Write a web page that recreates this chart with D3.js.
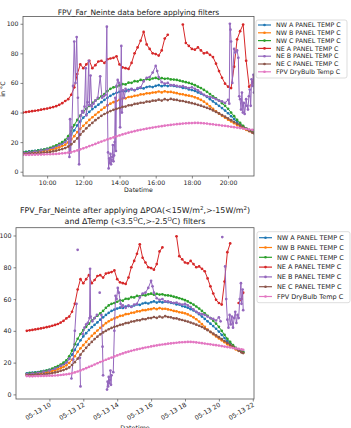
<!DOCTYPE html>
<html>
<head>
<meta charset="utf-8">
<script src="https://cdn.jsdelivr.net/npm/d3@7"></script>
<style>
  body { margin: 0; background: #fff; }
  svg { display: block; font-family: "DejaVu Sans", sans-serif; }
</style>
</head>
<body>
<svg id="chart" width="351" height="428"></svg>
<script>
// Series names and colours (matplotlib tab10 order)
const names = ["NW A PANEL TEMP C", "NW B PANEL TEMP C", "NW C PANEL TEMP C", "NE A PANEL TEMP C",
               "NE B PANEL TEMP C", "NE C PANEL TEMP C", "FPV DryBulb Temp C"];
const colors = ["#1f77b4", "#ff7f0e", "#2ca02c", "#d62728", "#9467bd", "#8c564b", "#e377c2"];

const yTicks = [0, 20, 40, 60, 80, 100];
const topTicks = ["10:00", "12:00", "14:00", "16:00", "18:00", "20:00"];
const bottomTicks = ["10:00", "12:00", "14:00", "16:00", "18:00", "20:00", "22:00"];

const at = (h, m) => new Date(2023, 4, 13, h, m);
const hm = s => at(+s.slice(0, 2), +s.slice(3));

// 10 minute samples from 08:40 to 21:20, last sample 21:26
const gridTimes = d3.range(77).map(i => at(8, 40 + 10 * i)).concat([at(21, 26)]);

const nwA = [13.3, 13.5,
  13.7, 13.9, 14.1, 14.4, 14.7, 15.0,
  15.4, 15.9, 16.5, 17.2, 18.0, 19.0,
  20.2, 22.3, 25.0, 28.0, 31.3, 34.0,
  36.5, 38.5, 40.5, 42.3, 43.8, 45.3,
  47.0, 48.5, 50.0, 51.3, 52.5, 53.3,
  54.0, 54.6, 54.4, 55.3, 55.6, 55.2,
  56.0, 56.6, 56.3, 57.2, 57.6, 57.2,
  58.0, 58.5, 57.8, 58.4, 57.9, 58.3,
  58.0, 57.6, 57.4, 56.6, 56.5, 55.6,
  55.2, 54.6, 53.6, 52.8, 51.8, 50.5,
  49.0, 47.5, 46.0, 44.5, 43.0, 41.3,
  39.5, 37.5, 35.5, 33.5, 31.8, 30.3,
  29.2, 28.2, 27.4, 27.0];

const nwB = [12.6, 12.8,
  13.0, 13.1, 13.3, 13.5, 13.7, 14.0,
  14.3, 14.7, 15.2, 15.8, 16.5, 17.3,
  18.3, 19.8, 21.8, 24.0, 26.8, 29.0,
  31.0, 33.0, 35.0, 36.8, 38.5, 40.2,
  41.8, 43.3, 44.8, 46.0, 47.0, 47.8,
  48.5, 49.4, 49.6, 50.5, 50.6, 51.3,
  51.5, 52.2, 52.3, 53.0, 53.0, 53.5,
  53.6, 54.2, 53.6, 54.3, 53.8, 53.9,
  53.5, 53.1, 52.5, 52.3, 51.7, 51.4,
  51.0, 50.3, 49.5, 48.5, 47.3, 45.8,
  44.2, 42.5, 40.8, 39.2, 37.8, 36.5,
  35.2, 34.0, 32.8, 31.5, 30.4, 29.3,
  28.3, 27.4, 26.6, 26.2];

const nwC = [13.0, 13.2,
  13.4, 13.6, 13.9, 14.2, 14.6, 15.0,
  15.5, 16.2, 17.0, 17.8, 18.8, 20.0,
  21.5, 24.0, 27.5, 31.5, 35.0, 38.0,
  40.5, 42.5, 44.5, 46.5, 48.0, 49.5,
  51.0, 52.5, 54.5, 56.0, 57.0, 57.5,
  58.3, 59.2, 59.0, 60.2, 60.1, 61.2,
  61.0, 62.0, 61.7, 62.6, 62.3, 63.0,
  63.4, 62.7, 63.3, 62.8, 63.0, 62.4,
  62.3, 62.0, 61.5, 61.0, 60.5, 60.0,
  59.3, 58.5, 57.5, 56.5, 55.3, 54.0,
  52.5, 51.0, 49.5, 48.0, 46.3, 44.5,
  42.5, 40.0, 37.5, 35.0, 33.0, 31.0,
  29.3, 28.0, 27.0, 26.5];

const neA = [40.0, 40.3,
  40.6, 40.9, 41.2, 41.5, 41.9, 42.3,
  42.7, 43.2, 43.7, 44.3, 45.2, 46.3,
  47.8, 49.0, 52.0, 57.0, 66.0, 72.5,
  70.0, 72.5, 75.0, 70.0, 72.0, 74.5,
  75.0, 73.5, 76.0, 76.5, 77.0, 78.0,
  72.5, 70.5, 70.0, 69.5, 73.5, 80.0,
  84.0, 88.5, 94.5, 86.0, 83.0, 80.0,
  79.5, 78.5, 82.0, 90.0, 92.5, null,
  null, null, null, 99.5, 87.0, 85.0,
  83.0, 82.5, 84.0, 82.0, 80.0, 80.5,
  79.0, 77.5, 73.0, 68.0, 63.5, 59.5,
  57.5, 56.5, 71.0, 89.5, 95.0, 99.5,
  75.0, 57.5, 60.0, 64.0];

const neC = [12.0, 12.1,
  12.2, 12.3, 12.4, 12.5, 12.7, 12.9,
  13.1, 13.4, 13.8, 14.2, 14.8, 15.3,
  16.0, 17.0, 18.5, 20.3, 22.5, 25.0,
  27.3, 29.3, 31.3, 33.0, 34.8, 36.3,
  37.8, 39.0, 40.0, 41.0, 41.8, 42.5,
  43.0, 43.8, 44.0, 44.9, 45.0, 45.8,
  46.0, 46.6, 46.6, 47.4, 47.3, 48.0,
  48.0, 48.7, 48.1, 49.0, 48.4, 49.2,
  48.7, 48.5, 47.9, 47.8, 47.2, 46.8,
  46.3, 45.8, 45.2, 44.6, 43.9, 43.2,
  42.4, 41.4, 40.4, 39.4, 38.3, 37.2,
  36.0, 34.8, 33.6, 32.4, 31.2, 30.0,
  28.8, 27.6, 26.5, 26.0];

const dryBulb = [11.5, 11.4,
  11.4, 11.5, 11.5, 11.6, 11.6, 11.7,
  11.8, 11.8, 11.9, 12.0, 12.2, 12.4,
  12.6, 12.9, 13.3, 13.8, 14.4, 15.1,
  15.8, 16.5, 17.3, 18.0, 18.8, 19.6,
  20.4, 21.1, 21.8, 22.5, 23.2, 23.9,
  24.5, 25.2, 25.8, 26.4, 26.9, 27.4,
  27.9, 28.3, 28.7, 29.1, 29.5, 29.8,
  30.2, 30.5, 30.8, 31.1, 31.4, 31.6,
  31.9, 32.1, 32.3, 32.5, 32.7, 32.8,
  32.9, 33.0, 33.0, 32.9, 32.7, 32.5,
  32.2, 32.0, 31.7, 31.5, 31.2, 31.0,
  30.7, 30.4, 30.1, 29.8, 29.5, 29.2,
  28.9, 28.6, 28.3, 28.1];

// NE B is irregular: [time, value]
const neBRaw = [
  ["08:40", 12.8], ["09:00", 13.1], ["09:20", 13.6], ["09:40", 14.3], ["10:00", 15.0], ["10:20", 16.2],
  ["10:40", 18.0], ["11:00", 20.0], ["11:10", 22.5], ["11:14", 10.0], ["11:16", 35.5], ["11:18", 13.0],
  ["11:22", 30.0], ["11:26", 58.0], ["11:30", 88.0], ["11:34", 60.0], ["11:38", 91.0], ["11:42", 50.0],
  ["11:46", 5.0], ["11:48", 25.0], ["11:52", 38.0], ["11:56", 41.0], ["12:00", 40.0], ["12:04", 44.0],
  ["12:08", 70.0], ["12:10", 38.0], ["12:14", 47.0], ["12:18", 75.0], ["12:20", 45.0], ["12:24", 65.0],
  ["12:28", 44.0], ["12:34", 46.0], ["12:40", 48.0], ["12:48", 50.0], ["12:56", 64.5], ["13:02", 50.0],
  ["13:08", 51.0], ["13:14", 52.0], ["13:18", 98.0], ["13:20", 45.0], ["13:22", 13.0], ["13:24", 2.2],
  ["13:26", 9.0], ["13:28", 6.0], ["13:30", 12.0], ["13:32", 5.0], ["13:34", 8.0], ["13:36", 10.0],
  ["13:38", 18.0], ["13:40", 7.0], ["13:42", 11.0], ["13:44", 20.0], ["13:46", 50.0], ["13:48", 14.0],
  ["13:50", 58.0], ["13:54", 62.0], ["13:58", 60.0], ["14:02", 30.0], ["14:06", 85.0], ["14:08", 40.0],
  ["14:12", 55.0], ["14:16", 50.0], ["14:20", 56.0], ["14:30", 54.5], ["14:40", 56.0], ["14:50", 55.0],
  ["15:00", 56.5], ["15:10", 57.0], ["15:20", 61.0], ["15:30", 63.5], ["15:40", 64.0], ["15:50", 67.0],
  ["16:00", 71.5], ["16:05", 68.0], ["16:10", 64.0], ["16:20", 60.5], ["16:30", 59.5], ["16:40", 60.0],
  ["16:50", 58.5], ["17:00", 58.5], ["17:10", 58.0], ["17:20", 57.5], ["17:30", 57.8], ["17:40", 57.0],
  ["17:50", 56.5], ["18:00", 57.0], ["18:10", 56.0], ["18:20", 55.0], ["18:30", 53.5], ["18:40", 52.0],
  ["18:50", 51.0], ["19:00", 50.5], ["19:10", 50.0], ["19:20", 49.0], ["19:30", 48.0], ["19:40", 47.5],
  ["19:50", 46.5], ["20:00", 48.5], ["20:04", 46.0], ["20:06", 100.0], ["20:08", 96.0], ["20:10", 88.0],
  ["20:14", 60.0], ["20:20", 83.0], ["20:24", 80.5], ["20:30", 82.0], ["20:34", 77.0], ["20:37", 51.0],
  ["20:40", 49.0], ["20:43", 42.0], ["20:46", 53.5], ["20:49", 40.0], ["20:52", 46.5], ["20:55", 39.0],
  ["21:00", 49.0], ["21:03", 44.5], ["21:06", 42.0], ["21:09", 51.0], ["21:12", 55.5], ["21:15", 44.5],
  ["21:18", 62.5], ["21:21", 58.0], ["21:24", 65.5], ["21:26", 53.5]
];

// NE B after filtering (null = removed, breaks the line)
const neBFiltered = [
  ["08:40", 12.8], ["09:00", 13.1], ["09:20", 13.6], ["09:40", 14.3], ["10:00", 15.0], ["10:20", 16.2],
  ["10:40", 18.0], ["11:00", 20.0], ["11:10", 22.5], ["11:12", null],
  ["11:18", 10.0], ["11:24", 22.0], ["11:30", 40.0], ["11:36", 57.0], ["11:38", null],
  ["11:40", 91.0], ["11:42", null],
  ["11:48", 23.0], ["11:50", 5.0], ["11:52", null],
  ["11:58", 38.0], ["12:04", 42.0], ["12:10", 44.0], ["12:16", 45.0], ["12:22", 48.0], ["12:24", 79.0],
  ["12:26", 49.0], ["12:32", 46.0], ["12:40", 48.0], ["12:48", 50.0], ["12:54", null],
  ["12:58", 64.0], ["13:00", null],
  ["13:04", 50.0], ["13:08", 30.0], ["13:10", 12.0], ["13:12", null],
  ["13:24", 3.0], ["13:26", 8.0], ["13:28", 5.0], ["13:30", 11.0], ["13:32", 7.0], ["13:34", 9.0],
  ["13:36", 15.0], ["13:38", 6.0], ["13:40", 12.0], ["13:42", null],
  ["13:46", 14.0], ["13:50", 40.0], ["13:54", 62.0], ["13:58", 60.0], ["14:02", 67.0], ["14:06", 64.0],
  ["14:12", 57.0], ["14:16", 55.0], ["14:20", 56.0], ["14:30", 54.5], ["14:40", 56.0], ["14:50", 55.0],
  ["15:00", 56.5], ["15:10", 57.0], ["15:20", 61.0], ["15:30", 63.5], ["15:40", 64.0], ["15:50", 67.0],
  ["16:00", 71.5], ["16:05", 68.0], ["16:10", 64.0], ["16:20", 60.5], ["16:30", 59.5], ["16:40", 60.0],
  ["16:50", 58.5], ["17:00", 58.5], ["17:10", 58.0], ["17:20", 57.5], ["17:30", 57.8], ["17:40", 57.0],
  ["17:50", 56.5], ["18:00", 57.0], ["18:10", 56.0], ["18:20", 55.0], ["18:30", 53.5], ["18:40", 52.0],
  ["18:50", 51.0], ["19:00", 50.5], ["19:10", 50.0], ["19:20", 49.0], ["19:30", 48.0], ["19:40", 47.5],
  ["19:50", 46.5], ["20:00", 48.5], ["20:06", 46.0], ["20:08", null],
  ["20:12", 99.0], ["20:14", null],
  ["20:22", 80.5], ["20:26", 60.0], ["20:30", 47.0], ["20:34", 42.0], ["20:38", 50.0], ["20:42", 44.0],
  ["20:46", 49.0], ["20:50", 42.0], ["20:54", 48.0], ["20:58", 52.0], ["21:02", 45.0], ["21:06", 50.0],
  ["21:10", 48.0], ["21:14", 60.0], ["21:18", 70.0], ["21:20", 57.0], ["21:24", 66.0], ["21:26", 53.0]
];

// NE A samples removed by the filter
const neADropped = ["20:50", "21:00"];

const onGrid = vals => gridTimes.map((t, i) => [t, vals[i]]);
const irregular = arr => arr.map(d => [hm(d[0]), d[1]]);
const dropTimes = (pts, list) => pts.map(d => list.includes(d3.timeFormat("%H:%M")(d[0])) ? [d[0], null] : d);

const topSeries = [onGrid(nwA), onGrid(nwB), onGrid(nwC), onGrid(neA), irregular(neBRaw), onGrid(neC), onGrid(dryBulb)];
const bottomSeries = [onGrid(nwA), onGrid(nwB), onGrid(nwC), dropTimes(onGrid(neA), neADropped),
                      irregular(neBFiltered), onGrid(neC), onGrid(dryBulb)];

const svg = d3.select("#chart");
const first = gridTimes[0], last = gridTimes[gridTimes.length - 1];
const pad = (last - first) * 0.05;

function panel(cfg, id) {
  const g = svg.append("g");
  const x = d3.scaleTime().domain(cfg.xDomain).range([cfg.left, cfg.right]);
  const y = d3.scaleLinear().domain([-2.9, 104.9]).range([cfg.bottom, cfg.top]);

  svg.append("clipPath").attr("id", id).append("rect")
    .attr("x", cfg.left).attr("y", cfg.top)
    .attr("width", cfg.right - cfg.left).attr("height", cfg.bottom - cfg.top);

  const plot = g.append("g").attr("clip-path", `url(#${id})`);
  const line = d3.line().defined(d => d[1] != null).x(d => x(d[0])).y(d => y(d[1]));

  cfg.series.forEach((pts, i) => {
    plot.append("path").datum(pts)
      .attr("d", line)
      .attr("fill", "none")
      .attr("stroke", colors[i])
      .attr("stroke-width", 1.0);
    plot.append("g").selectAll("circle")
      .data(pts.filter(d => d[1] != null))
      .join("circle")
      .attr("cx", d => x(d[0]))
      .attr("cy", d => y(d[1]))
      .attr("r", 1.35)
      .attr("fill", colors[i]);
  });

  // frame
  g.append("rect")
    .attr("x", cfg.left).attr("y", cfg.top)
    .attr("width", cfg.right - cfg.left).attr("height", cfg.bottom - cfg.top)
    .attr("fill", "none").attr("stroke", "#555").attr("stroke-width", 0.8);

  // axes
  const xa = g.append("g")
    .attr("transform", `translate(0,${cfg.bottom})`)
    .call(d3.axisBottom(x).tickValues(cfg.xTicks.map(hm)).tickFormat(d3.timeFormat(cfg.fmt))
      .tickSize(2.5).tickPadding(2));
  xa.select(".domain").remove();
  xa.selectAll("line").attr("stroke", "#555").attr("stroke-width", 0.7);
  xa.selectAll("text").attr("font-size", cfg.tickFont).attr("fill", "#222").attr("font-family", "DejaVu Sans");
  if (cfg.rotate) {
    xa.selectAll("text")
      .attr("text-anchor", "end")
      .attr("x", 0).attr("y", 0).attr("dy", 0)
      .attr("transform", "translate(1.5,7) rotate(-30)");
  }

  const ya = g.append("g")
    .attr("transform", `translate(${cfg.left},0)`)
    .call(d3.axisLeft(y).tickValues(yTicks).tickSize(2.5).tickPadding(2));
  ya.select(".domain").remove();
  ya.selectAll("line").attr("stroke", "#555").attr("stroke-width", 0.7);
  ya.selectAll("text").attr("font-size", cfg.tickFont).attr("fill", "#222").attr("font-family", "DejaVu Sans");

  // x label
  g.append("text")
    .attr("x", (cfg.left + cfg.right) / 2).attr("y", cfg.xLabelY)
    .attr("text-anchor", "middle").attr("font-size", cfg.tickFont).attr("fill", "#222")
    .text("Datetime");

  // legend
  const L = cfg.legend;
  const lg = g.append("g").attr("transform", `translate(${L.x},${L.y})`);
  lg.append("rect").attr("width", L.w).attr("height", L.h).attr("rx", 2)
    .attr("fill", "#fff").attr("stroke", "#d4d4d4").attr("stroke-width", 0.8);
  names.forEach((n, i) => {
    const yy = L.first + i * L.step;
    lg.append("line").attr("x1", 2).attr("x2", 15).attr("y1", yy).attr("y2", yy)
      .attr("stroke", colors[i]).attr("stroke-width", 1.2);
    lg.append("circle").attr("cx", 8.5).attr("cy", yy).attr("r", 1.3).attr("fill", colors[i]);
    lg.append("text").attr("x", 20).attr("y", yy).attr("dy", "0.35em")
      .attr("font-size", L.font).attr("fill", "#222").text(n);
  });
  return g;
}

// top panel: before filters
const topPanel = panel({
  left: 23, right: 254, top: 16.5, bottom: 176,
  xDomain: [first, last], xTicks: topTicks, fmt: "%H:%M", rotate: false,
  tickFont: 6.2, xLabelY: 192,
  series: topSeries,
  legend: { x: 256, y: 20, w: 91, h: 58, first: 5, step: 7.8, font: 6.3 }
}, "clipTop");

topPanel.append("text").attr("x", 138.5).attr("y", 15)
  .attr("text-anchor", "middle").attr("font-size", 7.5).attr("fill", "#222")
  .text("FPV_Far_Neinte data before applying filters");

topPanel.append("text").attr("transform", "translate(4.5,89) rotate(-90)")
  .attr("text-anchor", "middle").attr("font-size", 6.3).attr("fill", "#222")
  .text("in °C");

// bottom panel: after filters
const bottomPanel = panel({
  left: 16, right: 254, top: 227.7, bottom: 399,
  xDomain: [new Date(+first - pad), new Date(+last + pad)], xTicks: bottomTicks, fmt: "%m-%d %H", rotate: true,
  tickFont: 6.3, xLabelY: 430,
  series: bottomSeries,
  legend: { x: 257, y: 231.7, w: 93, h: 71, first: 6, step: 9.8, font: 6.5 }
}, "clipBottom");

const t1 = bottomPanel.append("text").attr("x", 135).attr("y", 213)
  .attr("text-anchor", "middle").attr("font-size", 7.9).attr("fill", "#222");
t1.append("tspan").text("FPV_Far_Neinte after applying ΔPOA(<15W/m");
t1.append("tspan").attr("dy", -3).attr("font-size", 5.5).text("2");
t1.append("tspan").attr("dy", 3).text(",>-15W/m");
t1.append("tspan").attr("dy", -3).attr("font-size", 5.5).text("2");
t1.append("tspan").attr("dy", 3).text(")");

const t2 = bottomPanel.append("text").attr("x", 135).attr("y", 224)
  .attr("text-anchor", "middle").attr("font-size", 7.9).attr("fill", "#222");
t2.append("tspan").text("and ΔTemp (<3.5");
t2.append("tspan").attr("dy", -3).attr("font-size", 5.5).text("O");
t2.append("tspan").attr("dy", 3).text("C,>-2.5");
t2.append("tspan").attr("dy", -3).attr("font-size", 5.5).text("O");
t2.append("tspan").attr("dy", 3).text("C) filters");
</script>
</body>
</html>
